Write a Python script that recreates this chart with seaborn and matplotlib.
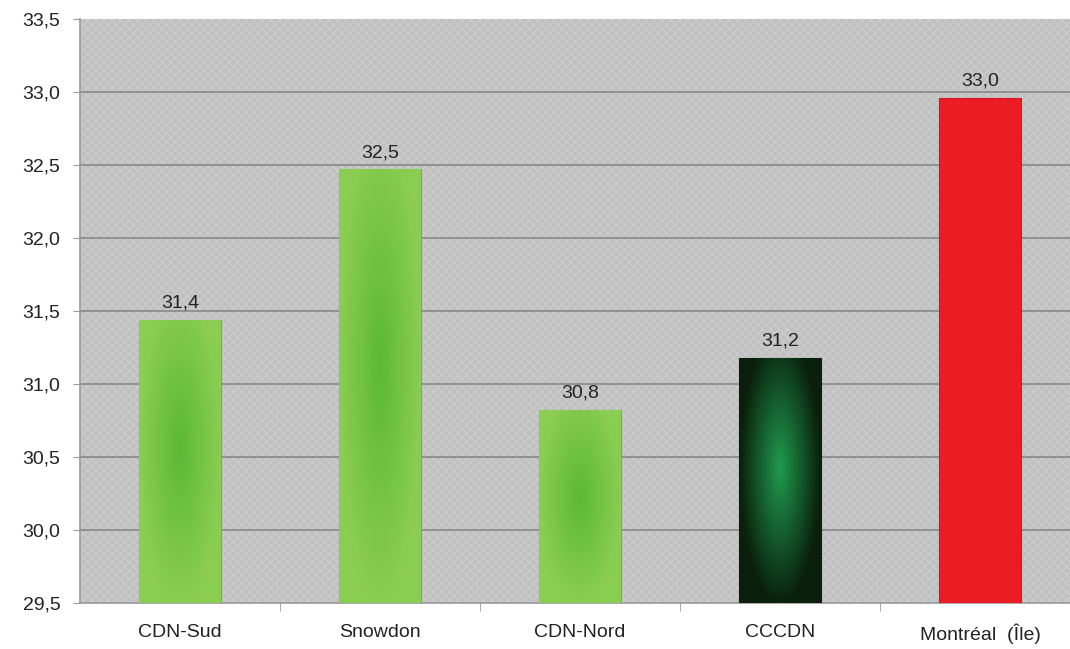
import numpy as np
import matplotlib
matplotlib.use("Agg")
import matplotlib.pyplot as plt
import seaborn as sns
from matplotlib.patches import Rectangle

# donnees
categories = ['CDN-Sud', 'Snowdon', 'CDN-Nord', 'CCCDN', 'Montréal  (Île)']
valeurs = [31.44, 32.47, 30.82, 31.18, 32.96]
couleurs = ['#74c445', '#74c445', '#74c445', '#145a2a', '#ec1c24']
yticks = [29.5, 30.0, 30.5, 31.0, 31.5, 32.0, 32.5, 33.0, 33.5]

sns.set_style("white")
plt.rcParams['font.family'] = ['Liberation Sans', 'DejaVu Sans']

fig = plt.figure(figsize=(10.7, 6.49), dpi=100)
ax = fig.add_axes([80/1070, 46/649, 1000/1070, 584/649])

sns.barplot(x=categories, y=valeurs, hue=categories, palette=couleurs,
            legend=False, width=0.41, ax=ax, zorder=3, saturation=1)

ax.set_ylim(29.5, 33.5)
ax.set_xlim(-0.5, 4.5)

# fond gris hachure
ax.set_facecolor('#c0c0c0')
ax.add_patch(Rectangle((0, 0), 1, 1, transform=ax.transAxes, facecolor='none',
                       hatch='xxxx', edgecolor='#cbcbcb', lw=0, zorder=0))
for t in yticks[1:-1]:
    ax.axhline(t, color='#8c8c8c', lw=1.3, zorder=1)

# degrades dans les barres
degrades = {
    '#74c445': ('#5cb836', '#8acd52'),
    '#145a2a': ('#1f9a4e', '#0a200c'),
}
yy, xx = np.mgrid[-1:1:200j, -1:1:60j]
d = np.clip(np.sqrt(xx**2 + ((yy + 0.1) * 0.9)**2), 0, 1)[..., None]
for patch, c in zip(ax.patches, couleurs):
    x0, w = patch.get_x(), patch.get_width()
    top = patch.get_y() + patch.get_height()
    if c in degrades:
        c1 = np.array(matplotlib.colors.to_rgb(degrades[c][0]))
        c2 = np.array(matplotlib.colors.to_rgb(degrades[c][1]))
        img = c1 * (1 - d) + c2 * d
        im = ax.imshow(img, extent=[x0, x0 + w, 29.5, top], aspect='auto',
                       zorder=3.5, interpolation='bicubic')
        im.set_clip_path(patch)
    patch.set_edgecolor('#6ab83e' if c == '#74c445' else ('#0a200c' if c == '#145a2a' else '#d81820'))
    patch.set_linewidth(0.8)

ax.set_ylim(29.5, 33.5)
ax.set_xlim(-0.5, 4.5)

for i, v in enumerate(valeurs):
    ax.annotate(f"{v:.1f}".replace('.', ','), (i, v), xytext=(0, 6),
                textcoords='offset points', ha='center', va='bottom',
                fontsize=14, color='#222222', zorder=5)

ax.set_yticks(yticks)
ax.set_yticklabels([f"{t:.1f}".replace('.', ',') for t in yticks])
ax.set_xticks(range(len(categories)))
ax.set_xticks([0.5, 1.5, 2.5, 3.5], minor=True)
ax.tick_params(axis='y', length=5, color='#999999', pad=9, labelsize=14, labelcolor='#222222', left=True)
ax.tick_params(axis='x', which='major', length=0, pad=15, labelsize=14, labelcolor='#222222')
ax.tick_params(axis='x', which='minor', length=6, color='#999999', bottom=True)
ax.set_xlabel('')
ax.set_ylabel('')

for s in ['top', 'right']:
    ax.spines[s].set_visible(False)
for s in ['left', 'bottom']:
    ax.spines[s].set_color('#9a9a9a')
    ax.spines[s].set_linewidth(1.2)

fig.savefig('out.png', dpi=100)
